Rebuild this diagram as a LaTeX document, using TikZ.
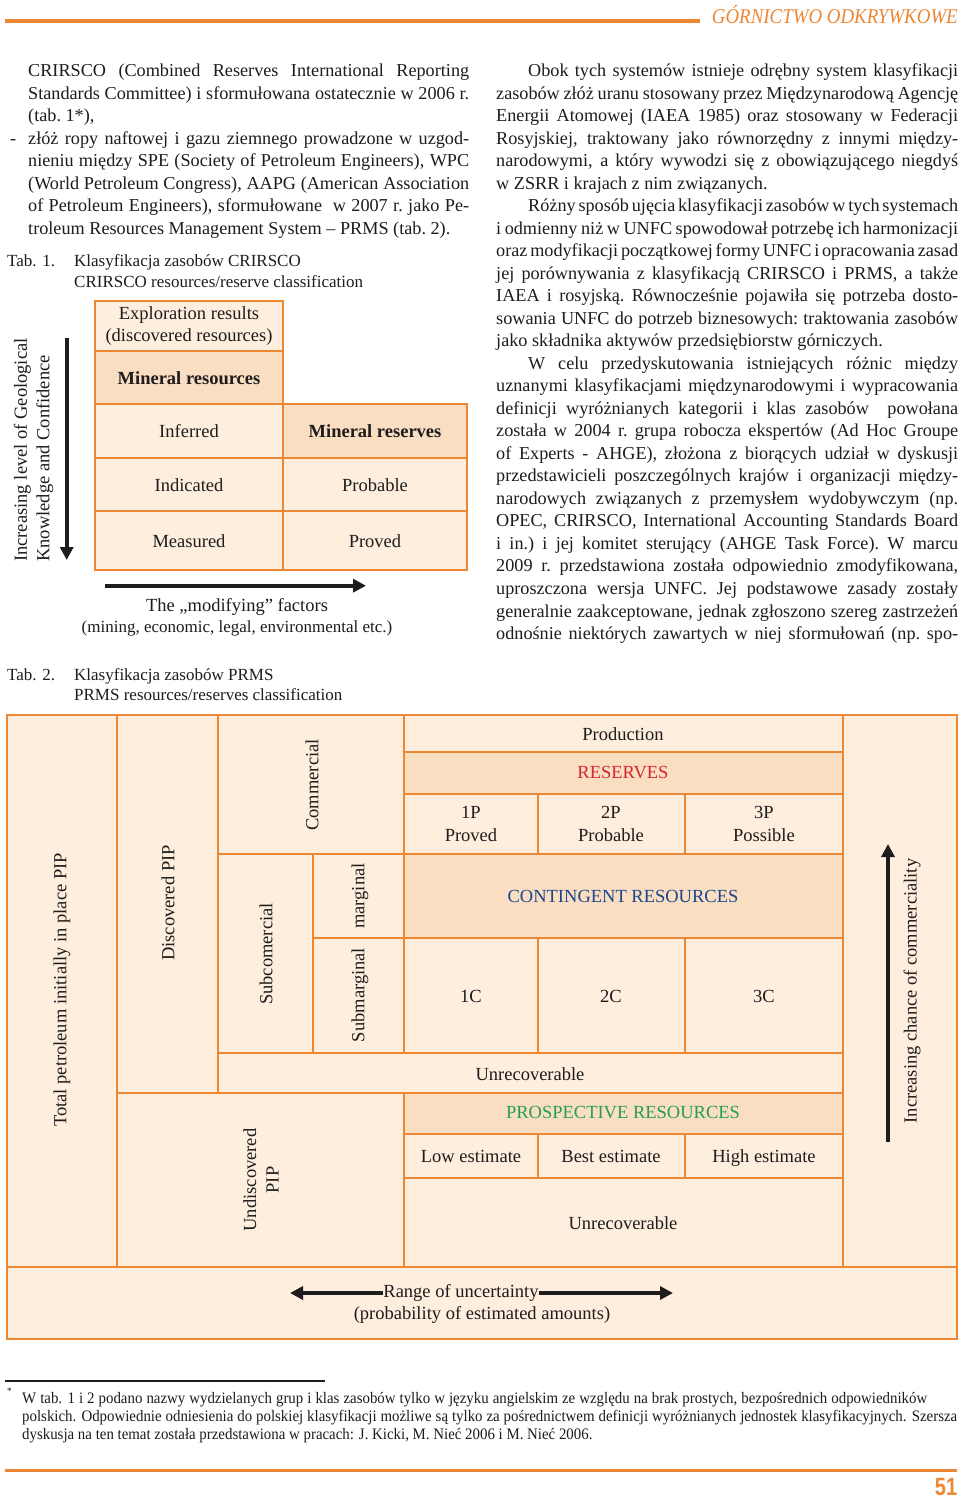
\documentclass[tikz,border=0pt]{standalone}
\usepackage{fontspec}
\setmainfont{Liberation Serif}
\newfontfamily\hdrfont[FakeStretch=0.9]{Liberation Serif}
\newfontfamily\fnfont[FakeStretch=0.93]{Liberation Serif}
\newfontfamily\numfont[FakeStretch=0.8]{Liberation Sans}
\usetikzlibrary{arrows.meta}
\definecolor{orB}{RGB}{236,135,52}
\definecolor{fillL}{RGB}{253,238,222}
\definecolor{fillD}{RGB}{250,222,194}
\definecolor{ink}{RGB}{30,28,28}
\definecolor{resred}{RGB}{214,38,46}
\definecolor{conblue}{RGB}{28,70,140}
\definecolor{prgreen}{RGB}{38,160,80}
\newcommand\bodyfont{\fontsize{18.2}{22.5}\selectfont}
\newcommand\tabfont{\fontsize{18.5}{22.5}\selectfont}
\newcommand\capfont{\fontsize{17}{20.5}\selectfont}
\newcommand\fnsize{\fnfont\fontsize{16}{18}\selectfont}
\newdimen\colw
\newcommand\J[1]{\hbox to\colw{\spaceskip=.25em plus 2em minus .1em\xspaceskip=\spaceskip\relax #1}}
\newcommand\N[1]{\hbox{\spaceskip=.25em\xspaceskip=\spaceskip\relax #1}}
\begin{document}
\begin{tikzpicture}[x=1pt,y=-1pt,
  txt/.style={inner sep=0pt, text=ink, font=\bodyfont},
  tabtxt/.style={inner sep=0pt, text=ink, font=\tabfont},
  captxt/.style={inner sep=0pt, text=ink, font=\capfont},
  cellL/.style={draw=orB, line width=2.2pt, fill=fillL},
  cellD/.style={draw=orB, line width=2.2pt, fill=fillD},
  gridline/.style={draw=orB, line width=2.2pt},
  arr/.style={draw=ink, line width=4pt, -{Triangle[length=13pt,width=13pt]}},
]
\useasboundingbox (0,0) rectangle (960,1501);
\fill[white] (0,0) rectangle (960,1501);

% header
\draw[orB, line width=4pt] (5,21) -- (700,21);
\node[anchor=base east, inner sep=0pt, text=orB, font=\hdrfont\itshape\fontsize{21}{24}\selectfont] (hdr) at (958,24) {GÓRNICTWO ODKRYWKOWE};

% left column text
\node[txt, anchor=base west] (pl) at (28,77) {\colw=441pt\vtop{%
\J{CRIRSCO (Combined Reserves International Reporting}
\J{Standards Committee) i sformułowana ostatecznie w 2006 r.}
\N{(tab. 1*),}
\J{złóż ropy naftowej i gazu ziemnego prowadzone w uzgod-}
\J{nieniu między SPE (Society of Petroleum Engineers), WPC}
\J{(World Petroleum Congress), AAPG (American Association}
\J{of Petroleum Engineers), sformułowane \ w 2007 r. jako Pe-}
\N{troleum Resources Management System – PRMS (tab. 2).}}};
\node[txt, anchor=base west] (dash) at (10,144.5) {-};

% right column text
\node[txt, anchor=base west] (pr) at (496,77) {\colw=462pt\vtop{%
\J{\hskip32pt Obok tych systemów istnieje odrębny system klasyfikacji}
\J{zasobów złóż uranu stosowany przez Międzynarodową Agencję}
\J{Energii Atomowej (IAEA 1985) oraz stosowany w Federacji}
\J{Rosyjskiej, traktowany jako równorzędny z innymi między-}
\J{narodowymi, a który wywodzi się z obowiązującego niegdyś}
\N{w ZSRR i krajach z nim związanych.}
\J{\hskip32pt Różny sposób ujęcia klasyfikacji zasobów w tych systemach}
\J{i odmienny niż w UNFC spowodował potrzebę ich harmonizacji}
\J{oraz modyfikacji początkowej formy UNFC i opracowania zasad}
\J{jej porównywania z klasyfikacją CRIRSCO i PRMS, a także}
\J{IAEA i rosyjską. Równocześnie pojawiła się potrzeba dosto-}
\J{sowania UNFC do potrzeb biznesowych: traktowania zasobów}
\N{jako składnika aktywów przedsiębiorstw górniczych.}
\J{\hskip32pt W celu przedyskutowania istniejących różnic między}
\J{uznanymi klasyfikacjami międzynarodowymi i wypracowania}
\J{definicji wyróżnianych kategorii i klas zasobów \ powołana}
\J{została w 2004 r. grupa robocza ekspertów (Ad Hoc Groupe}
\J{of Experts - AHGE), złożona z biorących udział w dyskusji}
\J{przedstawicieli poszczególnych krajów i organizacji między-}
\J{narodowych związanych z przemysłem wydobywczym (np.}
\J{OPEC, CRIRSCO, International Accounting Standards Board}
\J{i in.) i jej komitet sterujący (AHGE Task Force). W marcu}
\J{2009 r. przedstawiona została odpowiednio zmodyfikowana,}
\J{uproszczona wersja UNFC. Jej podstawowe zasady zostały}
\J{generalnie zaakceptowane, jednak zgłoszono szereg zastrzeżeń}
\J{odnośnie niektórych zawartych w niej sformułowań (np. spo-}}};

% Tab. 1 caption
\node[captxt, anchor=base west] (t1n) at (7,266) {Tab. 1.};
\node[captxt, anchor=base west] (t1a) at (74,266) {Klasyfikacja zasobów CRIRSCO};
\node[captxt, anchor=base west] (t1b) at (74,287) {CRIRSCO resources/reserve classification};

% CRIRSCO table
\draw[cellL] (95,301) rectangle (283,351);
\draw[cellD] (95,351) rectangle (283,404);
\draw[cellL] (95,404) rectangle (283,458);
\draw[cellL] (95,458) rectangle (283,511);
\draw[cellL] (95,511) rectangle (283,570);
\draw[cellD] (283,404) rectangle (467,458);
\draw[cellL] (283,458) rectangle (467,511);
\draw[cellL] (283,511) rectangle (467,570);
\node[tabtxt, align=center] (expl) at (189,326) {Exploration results\\(discovered resources)};
\node[tabtxt, font=\tabfont\bfseries] (minres) at (189,378) {Mineral resources};
\node[tabtxt] (inf) at (189,431) {Inferred};
\node[tabtxt] (ind) at (189,485) {Indicated};
\node[tabtxt] (mea) at (189,541) {Measured};
\node[tabtxt, font=\tabfont\bfseries] (minrsv) at (375,431) {Mineral reserves};
\node[tabtxt] (prob) at (375,485) {Probable};
\node[tabtxt] (prov) at (375,541) {Proved};

\node[tabtxt, rotate=90, anchor=west, align=left] (geo) at (33.5,562) {Increasing level of Geological\\Knowledge and Confidence};
\coordinate (vt) at (66.7,338);
\coordinate (vb) at (66.7,560);
\draw[arr] (vt) -- (vb);
\coordinate (hl) at (105,585.7);
\coordinate (hr) at (366,585.7);
\draw[arr] (hl) -- (hr);
\node[tabtxt] (mod1) at (237,607) {The „modifying” factors};
\node[tabtxt, font=\fontsize{17}{20}\selectfont] (mod2) at (237,628) {(mining, economic, legal, environmental etc.)};

% Tab. 2 caption
\node[captxt, anchor=base west] (t2n) at (7,680) {Tab. 2.};
\node[captxt, anchor=base west] (t2a) at (74,680) {Klasyfikacja zasobów PRMS};
\node[captxt, anchor=base west] (t2b) at (74,700) {PRMS resources/reserves classification};

% PRMS table fills
\fill[fillL] (7,715) rectangle (957,1339);
\fill[fillD] (404,752) rectangle (843,794);
\fill[fillD] (404,854) rectangle (843,938);
\fill[fillD] (404,1093) rectangle (843,1134);
% PRMS grid
\draw[gridline] (7,715) rectangle (957,1339);
\draw[gridline] (7,1267) -- (957,1267);
\draw[gridline] (117,715) -- (117,1267);
\draw[gridline] (218,715) -- (218,1093);
\draw[gridline] (117,1093) -- (843,1093);
\draw[gridline] (404,715) -- (404,1053);
\draw[gridline] (404,1093) -- (404,1267);
\draw[gridline] (218,854) -- (843,854);
\draw[gridline] (313,854) -- (313,1053);
\draw[gridline] (313,938) -- (843,938);
\draw[gridline] (218,1053) -- (843,1053);
\draw[gridline] (843,715) -- (843,1267);
\draw[gridline] (404,752) -- (843,752);
\draw[gridline] (404,794) -- (843,794);
\draw[gridline] (404,1134) -- (843,1134);
\draw[gridline] (404,1178) -- (843,1178);
\foreach \cx in {538,685}{
  \draw[gridline] (\cx,794) -- (\cx,854);
  \draw[gridline] (\cx,938) -- (\cx,1053);
  \draw[gridline] (\cx,1134) -- (\cx,1178);
}

% PRMS labels
\node[tabtxt, rotate=90] (tpip) at (62,990) {Total petroleum initially in place PIP};
\node[tabtxt, rotate=90] (dpip) at (168,903) {Discovered PIP};
\node[tabtxt, rotate=90] (comm) at (312,785) {Commercial};
\node[tabtxt, rotate=90] (subc) at (266,954) {Subcomercial};
\node[tabtxt, rotate=90] (marg) at (360,896) {marginal};
\node[tabtxt, rotate=90] (subm) at (360,995) {Submarginal};
\node[tabtxt, rotate=90, align=center] (upip) at (261,1180) {Undiscovered\\PIP};
\node[tabtxt] (prodn) at (623,734) {Production};
\node[tabtxt, text=resred] (resv) at (623,773) {RESERVES};
\node[tabtxt, align=center] (p1) at (471,824) {1P\\Proved};
\node[tabtxt, align=center] (p2) at (611,824) {2P\\Probable};
\node[tabtxt, align=center] (p3) at (764,824) {3P\\Possible};
\node[tabtxt, text=conblue] (cont) at (623,896) {CONTINGENT RESOURCES};
\node[tabtxt] (c1) at (471,996) {1C};
\node[tabtxt] (c2) at (611,996) {2C};
\node[tabtxt] (c3) at (764,996) {3C};
\node[tabtxt] (unr1) at (530,1074) {Unrecoverable};
\node[tabtxt, text=prgreen] (pros) at (623,1113) {PROSPECTIVE RESOURCES};
\node[tabtxt] (low) at (471,1156) {Low estimate};
\node[tabtxt] (best) at (611,1156) {Best estimate};
\node[tabtxt] (high) at (764,1158) {High estimate};
\node[tabtxt] (unr2) at (623,1223) {Unrecoverable};
\node[tabtxt, rotate=90] (comc) at (912,991) {Increasing chance of commerciality};
\coordinate (ub) at (888,1142);
\coordinate (ut) at (888,844);
\draw[arr] (ub) -- (ut);
\node[tabtxt] (range) at (461,1293) {Range of uncertainty};
\coordinate (rl) at (290,1293);
\coordinate (rr) at (673,1293);
\draw[arr] (range.west) -- (rl);
\draw[arr] (range.east) -- (rr);
\node[tabtxt] (prob2) at (482,1315) {(probability of estimated amounts)};

% footnote
\draw[ink, line width=1.1pt] (5,1381) -- (325,1381);
\node[inner sep=0pt, text=ink, font=\fnsize\fontsize{10}{10}\selectfont, anchor=base west] (star) at (7,1394) {*};
\node[inner sep=0pt, text=ink, font=\fnsize, anchor=base west] (fn) at (22,1403) {\vtop{%
\hbox to 905pt{\spaceskip=.25em plus 2em minus .15em\relax W tab. 1 i 2 podano nazwy wydzielanych grup i klas zasobów tylko w języku angielskim ze względu na brak prostych, bezpośrednich odpowiedników}
\hbox to 935pt{\spaceskip=.25em plus 2em minus .15em\relax polskich. Odpowiednie odniesienia do polskiej klasyfikacji możliwe są tylko za pośrednictwem definicji wyróżnianych jednostek klasyfikacyjnych. Szersza}
\hbox{dyskusja na ten temat została przedstawiona w pracach: J. Kicki, M. Nieć 2006 i M. Nieć 2006.}}};

% bottom rule and page number
\draw[orB, line width=3pt] (5,1470) -- (957,1470);
\node[inner sep=0pt, text=orB, font=\numfont\bfseries\fontsize{25}{25}\selectfont] (pnum) at (946,1487) {51};
\end{tikzpicture}
\end{document}
